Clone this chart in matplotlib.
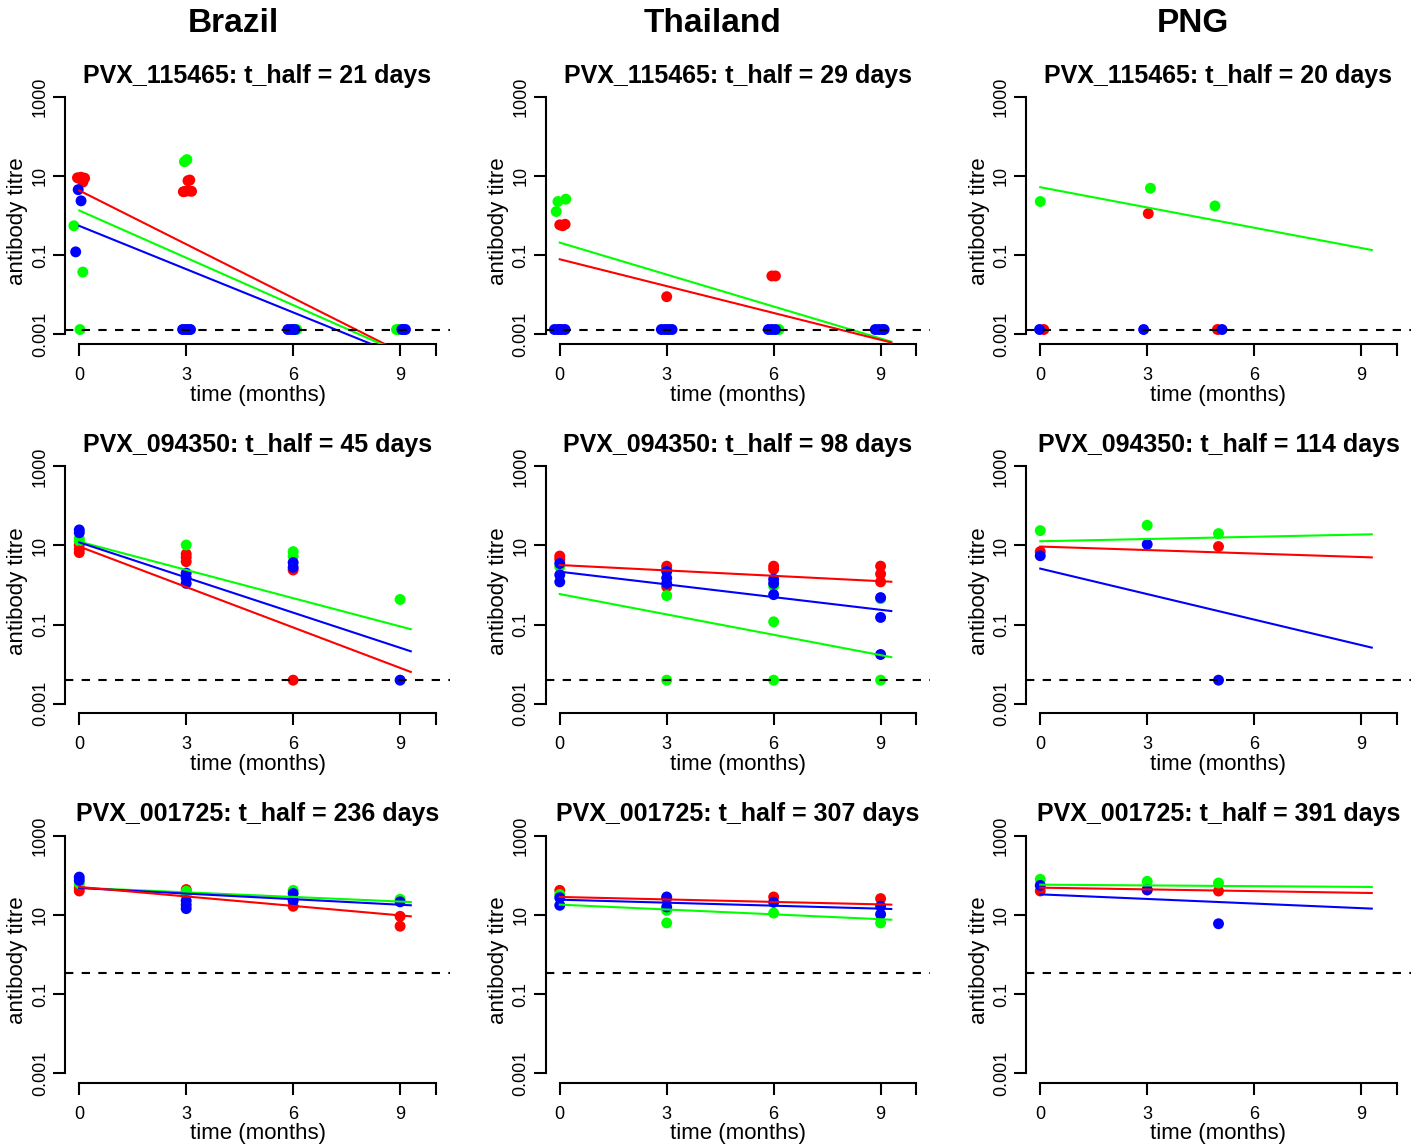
import matplotlib.pyplot as plt
import numpy as np

plt.rcParams['font.family'] = ['Liberation Sans', 'DejaVu Sans']

# colour codes used for the three groups
COLS = {'r': '#FF0000', 'g': '#00FF00', 'b': '#0000FF'}

sites = ['Brazil', 'Thailand', 'PNG']
antigens = ['PVX_115465', 'PVX_094350', 'PVX_001725']
t_half = [[21, 29, 20], [45, 98, 114], [236, 307, 391]]
lod = [0.0013, 0.0039, 0.34]   # detection limit per antigen row
fit_t = [0, 9.3]

# ---------------- PVX_115465 ----------------
bra1_t = [-0.05, 0.05, 0.15, 0.1, 2.92, 2.98, 3.05, 3.08, 3.1, 3.15, 6.0,
          -0.15, 0.1, 0.02, 2.95, 3.02, 6.05, 6.1, 8.9, 8.95,
          -0.03, 0.05, -0.1, 2.9, 2.98, 3.05, 3.12, 5.85, 5.95, 6.05, 9.05, 9.1, 9.15]
bra1_y = [9.0, 9.3, 8.8, 7.0, 4.0, 4.1, 7.6, 4.2, 7.9, 4.1, 0.0013,
          0.55, 0.037, 0.0013, 23, 26, 0.0013, 0.0013, 0.0013, 0.0013,
          4.5, 2.35, 0.12, 0.0013, 0.0013, 0.0013, 0.0013, 0.0013, 0.0013, 0.0013, 0.0013, 0.0013, 0.0013]
bra1_c = list('rrrrrrrrrrr' + 'ggggggggg' + 'bbbbbbbbbbbbb')
bra1_fit_c = ['r', 'g', 'b']
bra1_fit_0 = [4.3, 1.34, 0.546]
bra1_fit_1 = [2.6e-4, 2.6e-4, 2.2e-4]

tha1_t = [0.0, 0.08, 0.15, 0.0, 3.0, 5.95, 6.05,
          -0.1, -0.05, 0.17, 3.05, 6.15,
          -0.15, -0.05, 0.05, 0.15, 2.85, 2.95, 3.05, 3.15, 5.85, 5.95, 6.05, 8.85, 8.95, 9.05, 9.1]
tha1_y = [0.58, 0.55, 0.6, 0.0013, 0.0088, 0.0295, 0.0295,
          1.26, 2.26, 2.59, 0.0013, 0.0013,
          0.0013, 0.0013, 0.0013, 0.0013, 0.0013, 0.0013, 0.0013, 0.0013, 0.0013, 0.0013, 0.0013,
          0.0013, 0.0013, 0.0013, 0.0013]
tha1_c = list('rrrrrrr' + 'ggggg' + 'bbbbbbbbbbbbbbb')
tha1_fit_c = ['g', 'r']
tha1_fit_0 = [0.206, 0.078]
tha1_fit_1 = [6.4e-4, 6.1e-4]

png1_t = [3.03, 0.1, 4.97, 0.0, 3.09, 4.9, -0.02, 2.9, 5.1]
png1_y = [1.12, 0.0013, 0.0013, 2.26, 4.9, 1.75, 0.0013, 0.0013, 0.0013]
png1_c = list('rrrgggbbb')
png1_fit_c = ['g']
png1_fit_0 = [5.2]
png1_fit_1 = [0.134]

# ---------------- PVX_094350 ----------------
bra2_t = [0, 0, 0, 3, 3, 3, 6, 6,
          0, 0, 3, 6, 6, 9,
          0, 0, 3, 3, 3, 6, 6, 9]
bra2_y = [10.3, 8.0, 6.6, 6.1, 5.0, 3.9, 2.4, 0.0039,
          15, 13, 10.3, 7.0, 5.4, 0.43,
          24.8, 21, 2.0, 1.5, 1.1, 3.7, 2.8, 0.0039]
bra2_c = list('rrrrrrrr' + 'gggggg' + 'bbbbbbbb')
bra2_fit_c = ['g', 'b', 'r']
bra2_fit_0 = [12.5, 12.0, 9.4]
bra2_fit_1 = [0.076, 0.021, 0.0063]

tha2_t = [0, 0, 3, 3, 3, 6, 6, 9, 9, 9,
          0, 3, 3, 6, 6, 6, 9, 9,
          0, 0, 0, 3, 3, 3, 6, 6, 6, 9, 9, 9]
tha2_y = [5.4, 4.5, 3.0, 2.5, 0.9, 3.0, 2.5, 3.0, 1.9, 1.2,
          2.9, 0.54, 0.0039, 0.94, 0.117, 0.0039, 0.45, 0.0039,
          3.5, 1.8, 1.2, 2.2, 1.5, 1.1, 1.4, 1.1, 0.57, 0.48, 0.151, 0.0174]
tha2_c = list('rrrrrrrrrr' + 'gggggggg' + 'bbbbbbbbbbbb')
tha2_fit_c = ['r', 'b', 'g']
tha2_fit_0 = [3.2, 2.17, 0.59]
tha2_fit_1 = [1.21, 0.219, 0.0149]

png2_t = [0, 5, 0, 3, 5, 0, 3, 5]
png2_y = [7.0, 9.4, 23.8, 32.5, 20, 5.5, 10.7, 0.0039]
png2_c = list('rrgggbbb')
png2_fit_c = ['g', 'r', 'b']
png2_fit_0 = [12.8, 9.4, 2.6]
png2_fit_1 = [19.2, 5.0, 0.026]

# ---------------- PVX_001725 ----------------
bra3_t = [0, 0, 3, 6, 9, 9,
          0, 3, 3, 6, 9,
          0, 0, 3, 3, 3, 6, 6, 9]
bra3_y = [49, 40.5, 44, 16.6, 9.25, 5.2,
          62, 40, 31.6, 42, 25,
          91, 75, 23, 18, 14.5, 35, 23, 21.5]
bra3_c = list('rrrrrr' + 'ggggg' + 'bbbbbbbb')
bra3_fit_c = ['g', 'b', 'r']
bra3_fit_0 = [49, 48.2, 51.2]
bra3_fit_1 = [21.3, 17.6, 9.25]

tha3_t = [0, 3, 6, 9,
          0, 3, 3, 6, 9,
          0, 0, 3, 3, 6, 9, 9]
tha3_y = [42, 26, 28.6, 26,
          33, 13.1, 6.3, 11.2, 6.3,
          27.5, 17.6, 28.6, 16, 21, 16.6, 10.4]
tha3_c = list('rrrr' + 'ggggg' + 'bbbbbbb')
tha3_fit_c = ['r', 'b', 'g']
tha3_fit_0 = [28.6, 24.4, 18.3]
tha3_fit_1 = [18.3, 14.2, 7.6]

png3_t = [0, 3, 5, 0, 3, 5, 0, 3, 5]
png3_y = [40.5, 43, 40.5, 80, 71, 64.5, 56, 43.7, 6.0]
png3_c = list('rrrgggbbb')
png3_fit_c = ['g', 'r', 'b']
png3_fit_0 = [58.6, 49.2, 33.3]
png3_fit_1 = [51.2, 36, 14.5]

panels = [
    [(bra1_t, bra1_y, bra1_c, bra1_fit_c, bra1_fit_0, bra1_fit_1),
     (tha1_t, tha1_y, tha1_c, tha1_fit_c, tha1_fit_0, tha1_fit_1),
     (png1_t, png1_y, png1_c, png1_fit_c, png1_fit_0, png1_fit_1)],
    [(bra2_t, bra2_y, bra2_c, bra2_fit_c, bra2_fit_0, bra2_fit_1),
     (tha2_t, tha2_y, tha2_c, tha2_fit_c, tha2_fit_0, tha2_fit_1),
     (png2_t, png2_y, png2_c, png2_fit_c, png2_fit_0, png2_fit_1)],
    [(bra3_t, bra3_y, bra3_c, bra3_fit_c, bra3_fit_0, bra3_fit_1),
     (tha3_t, tha3_y, tha3_c, tha3_fit_c, tha3_fit_0, tha3_fit_1),
     (png3_t, png3_y, png3_c, png3_fit_c, png3_fit_0, png3_fit_1)],
]

W, H = 1419, 1145
fig = plt.figure(figsize=(W / 100, H / 100), dpi=100)

for c, site in enumerate(sites):
    fig.text((233 + 480 * c) / W, 1 - 23 / H, site, fontsize=24, fontweight='bold',
             ha='center', va='center')

for r in range(3):
    for c in range(3):
        t, y, grp, fc, f0, f1 = panels[r][c]
        left = (65 + 480.5 * c) / W
        bottom = 1 - (343.5 + 369.5 * r) / H
        ax = fig.add_axes([left, bottom, 385 / W, 256 / H])

        ax.scatter(t, y, c=[COLS[g] for g in grp], s=62, linewidths=0, zorder=2)
        for g, a, b in zip(fc, f0, f1):
            ax.plot(fit_t, [a, b], color=COLS[g], lw=1.5, zorder=3)
        ax.axhline(lod[r], color='black', lw=1.5, ls=(0, (4, 4)), zorder=4)

        ax.set_yscale('log')
        ax.set_xlim(-0.4, 10.4)
        ax.set_ylim(10 ** -3.24, 10 ** 3.24)
        ax.spines['top'].set_visible(False)
        ax.spines['right'].set_visible(False)
        ax.spines['left'].set_bounds(1e-3, 1e3)
        ax.spines['bottom'].set_bounds(0, 10)
        for s in ('left', 'bottom'):
            ax.spines[s].set_linewidth(1.5)

        ax.set_xticks([0, 3, 6, 9, 10])
        ax.set_xticklabels(['0', '3', '6', '9', ''])
        ax.set_yticks([0.001, 0.1, 10, 1000])
        ax.set_yticklabels(['0.001', '0.1', '10', '1000'], rotation=90, va='center')
        ax.minorticks_off()
        ax.tick_params(axis='both', direction='out', length=8.6, width=1.5, labelsize=13)
        ax.tick_params(axis='x', pad=8)
        ax.tick_params(axis='y', pad=3)

        ax.set_title(f'{antigens[r]}: t_half = {t_half[r][c]} days',
                     fontsize=18, fontweight='bold', pad=3)
        ax.set_xlabel('time (months)', fontsize=16, va='center')
        ax.xaxis.set_label_coords(0.5, -51.5 / 256)
        ax.set_ylabel('antibody titre', fontsize=16, va='center')
        ax.yaxis.set_label_coords(-47 / 385, 0.477)

fig.savefig('out.png', dpi=100)
